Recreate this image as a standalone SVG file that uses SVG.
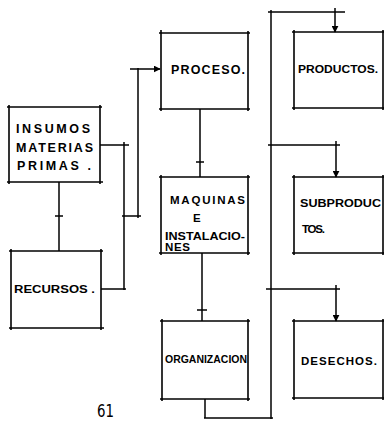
<svg xmlns="http://www.w3.org/2000/svg" width="384" height="421" viewBox="0 0 384 421">
<style>
.b line{stroke:#000;stroke-width:1.6}
.c line,.c path{stroke:#000;stroke-width:1.5;fill:none}
.t{font-family:"Liberation Sans",Arial,sans-serif;font-weight:bold;font-size:11.5px;fill:#000}
.L{font-size:12.5px}
.n{font-family:"DejaVu Sans","Liberation Sans",sans-serif;font-size:17px;fill:#000}
</style>
<defs>
<marker id="ah" viewBox="0 0 10 10" refX="9" refY="5" markerWidth="7" markerHeight="7" orient="auto-start-reverse" markerUnits="userSpaceOnUse">
<path d="M0,0 L10,5 L0,10 z" fill="#000"/>
</marker>
</defs>
<rect width="384" height="421" fill="#fff"/>
<g class="c" id="connectors">
<line x1="100" y1="145" x2="129" y2="145"/>
<line x1="124" y1="142" x2="124" y2="290"/>
<line x1="101" y1="289" x2="126" y2="289"/>
<line x1="122" y1="216" x2="141" y2="216"/>
<line x1="138" y1="68" x2="138" y2="218"/>
<line x1="130" y1="69" x2="160" y2="69" marker-end="url(#ah)"/>
<line x1="59" y1="182" x2="59" y2="251"/>
<line x1="55" y1="216" x2="63" y2="216"/>
<line x1="200" y1="109" x2="200" y2="177"/>
<line x1="196" y1="162" x2="204" y2="162"/>
<line x1="202" y1="253" x2="202" y2="321"/>
<line x1="197" y1="310" x2="207" y2="310"/>
<line x1="205" y1="399" x2="205" y2="418"/>
<line x1="204" y1="418" x2="273" y2="418"/>
<line x1="271" y1="419" x2="271" y2="10"/>
<line x1="268" y1="12" x2="345" y2="12"/>
<line x1="335" y1="8" x2="335" y2="32" marker-end="url(#ah)"/>
<line x1="268" y1="145" x2="340" y2="145"/>
<line x1="336" y1="141" x2="336" y2="177" marker-end="url(#ah)"/>
<line x1="266" y1="289" x2="340" y2="289"/>
<line x1="336" y1="285" x2="336" y2="321" marker-end="url(#ah)"/>
</g>
<g id="insumos" class="b">
<line x1="7" y1="107" x2="102" y2="107"/><line x1="7" y1="182" x2="103" y2="182"/>
<line x1="9" y1="105" x2="9" y2="184"/><line x1="100" y1="105" x2="100" y2="184"/>
<text class="t L" x="16" y="133" textLength="74" lengthAdjust="spacing">INSUMOS</text>
<text class="t L" x="16" y="152" textLength="77" lengthAdjust="spacing">MATERIAS</text>
<text class="t L" x="17" y="170" textLength="74" lengthAdjust="spacing">PRIMAS .</text>
</g>
<g id="recursos" class="b">
<line x1="9" y1="251" x2="103" y2="251"/><line x1="9" y1="328" x2="104" y2="328"/>
<line x1="11" y1="249" x2="11" y2="330"/><line x1="101" y1="249" x2="101" y2="330"/>
<text class="t" x="14" y="293" textLength="81" lengthAdjust="spacingAndGlyphs">RECURSOS .</text>
</g>
<g id="proceso" class="b">
<line x1="159" y1="33" x2="250" y2="33"/><line x1="159" y1="109" x2="250" y2="109"/>
<line x1="161" y1="30" x2="161" y2="111"/><line x1="248" y1="31" x2="248" y2="111"/>
<text class="t L" x="171" y="74" textLength="74" lengthAdjust="spacing">PROCESO.</text>
</g>
<g id="maquinas" class="b">
<line x1="159" y1="177" x2="250" y2="177"/><line x1="159" y1="253" x2="250" y2="253"/>
<line x1="161" y1="175" x2="161" y2="255"/><line x1="248" y1="175" x2="248" y2="255"/>
<text class="t" x="170" y="204" textLength="75" lengthAdjust="spacing">MAQUINAS</text>
<text class="t" x="193" y="222">E</text>
<text class="t" x="165" y="240" textLength="80" lengthAdjust="spacingAndGlyphs">INSTALACIO-</text>
<text class="t" x="165" y="251" textLength="25" lengthAdjust="spacing">NES</text>
</g>
<g id="organizacion" class="b">
<line x1="160" y1="321" x2="250" y2="321"/><line x1="160" y1="399" x2="250" y2="399"/>
<line x1="162" y1="319" x2="162" y2="401"/><line x1="248" y1="319" x2="248" y2="401"/>
<text class="t" x="165" y="363" textLength="82" lengthAdjust="spacingAndGlyphs" style="font-size:10px">ORGANIZACION</text>
</g>
<g id="productos" class="b">
<line x1="292" y1="32" x2="384" y2="32"/><line x1="292" y1="108" x2="384" y2="108"/>
<line x1="294" y1="30" x2="294" y2="110"/><line x1="383" y1="30" x2="383" y2="110"/>
<text class="t" x="298" y="73" textLength="80" lengthAdjust="spacingAndGlyphs">PRODUCTOS.</text>
</g>
<g id="subproductos" class="b">
<line x1="292" y1="177" x2="384" y2="177"/><line x1="292" y1="253" x2="384" y2="253"/>
<line x1="294" y1="175" x2="294" y2="255"/><line x1="383" y1="175" x2="383" y2="255"/>
<text class="t" x="300" y="207" textLength="81" lengthAdjust="spacingAndGlyphs">SUBPRODUC</text>
<text class="t" x="302" y="233" textLength="23" lengthAdjust="spacing">TOS.</text>
</g>
<g id="desechos" class="b">
<line x1="292" y1="321" x2="384" y2="321"/><line x1="292" y1="398" x2="384" y2="398"/>
<line x1="294" y1="319" x2="294" y2="400"/><line x1="383" y1="319" x2="383" y2="400"/>
<text class="t" x="301" y="365" textLength="76" lengthAdjust="spacing">DESECHOS.</text>
</g>
<text class="n" x="97" y="417" textLength="17" lengthAdjust="spacingAndGlyphs">61</text>
</svg>
